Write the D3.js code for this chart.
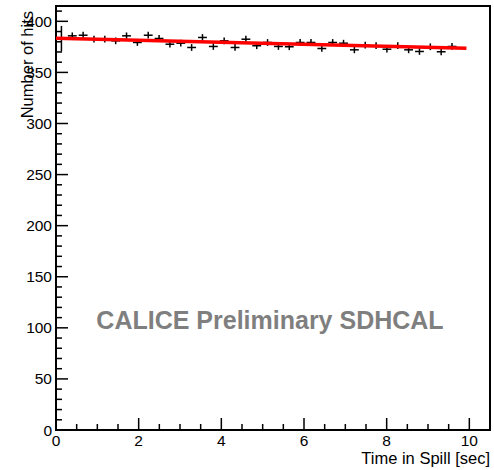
<!DOCTYPE html>
<html><head><meta charset="utf-8">
<script src="https://cdn.jsdelivr.net/npm/d3@7"></script>
<style>body{margin:0;background:#fff}svg{display:block}text{font-family:"Liberation Sans",Arial,sans-serif}</style>
</head><body>
<script>
const binWidth = 0.2625;
const hits = [383,385.8,386.4,382.5,382.5,380.9,385.8,379.3,386.4,383.2,377.6,378.6,374.4,384.2,375.4,380.9,374.4,382.5,376.1,379.3,375.4,375.1,379.3,379.3,373.4,379.3,378.6,372.1,376.6,376.1,372.7,376.1,372.1,370.5,375.1,370.2,375.4];
const errors = [12.5,3.3,3.3,3.3,3.3,3.3,3.3,3.3,3.3,3.3,3.3,3.3,3.3,3.3,3.3,3.3,3.3,3.3,3.3,3.3,3.3,3.3,3.3,3.3,3.3,3.3,3.3,3.3,3.3,3.3,3.3,3.3,3.3,3.3,3.3,3.3,3.3];
const fitRange = [0, 9.93];
const fitParams = [383.5, -0.99];
const xMajorTicks = [0,2,4,6,8,10];
const yMajorTicks = [0,50,100,150,200,250,300,350,400];
const xTitle = "Time in Spill [sec]";
const yTitle = "Number of hits";
const watermark = "CALICE Preliminary SDHCAL";

const W=494,H=470, L=56, R=490, T=6, B=430;
const svg=d3.select("body").append("svg").attr("width",W).attr("height",H);
const x=d3.scaleLinear().domain([0,10.5]).range([L,R]);
const y=d3.scaleLinear().domain([0,415]).range([B,T]);

// watermark
svg.append("text").attr("x",270).attr("y",329).attr("text-anchor","middle")
  .attr("font-size",25).attr("font-weight","bold").attr("fill","#7f7f7f").text(watermark);

// axes
const xMinor=d3.range(0,10.51,0.5), yMinor=d3.range(0,411,10);
const gx=svg.append("g");
gx.selectAll("line.mn").data(xMinor).join("line").attr("x1",d=>x(d)).attr("x2",d=>x(d))
  .attr("y1",B).attr("y2",d=>xMajorTicks.includes(d)?B-12:B-6).attr("stroke","#000").attr("stroke-width",1.5);
gx.selectAll("text").data(xMajorTicks).join("text").attr("x",d=>x(d)).attr("y",B+16)
  .attr("text-anchor","middle").attr("font-size",15.5).text(d=>d);
const gy=svg.append("g");
gy.selectAll("line").data(yMinor).join("line").attr("y1",d=>y(d)).attr("y2",d=>y(d))
  .attr("x1",L).attr("x2",d=>yMajorTicks.includes(d)?L+12:L+6).attr("stroke","#000").attr("stroke-width",1.5);
gy.selectAll("text").data(yMajorTicks).join("text").attr("x",L-4).attr("y",d=>y(d)+5.5)
  .attr("text-anchor","end").attr("font-size",15.5).text(d=>d);

svg.append("rect").attr("x",L).attr("y",T).attr("width",R-L).attr("height",B-T)
  .attr("fill","none").attr("stroke","#000").attr("stroke-width",2);

// titles
svg.append("text").attr("x",R).attr("y",464).attr("text-anchor","end").attr("font-size",16.5).text(xTitle);
svg.append("text").attr("transform","translate(33,11) rotate(-90)").attr("text-anchor","end")
  .attr("font-size",16.5).text(yTitle);

// data points
const pts=hits.map((v,i)=>({t:(i+0.5)*binWidth,v,e:errors[i]}));
const gp=svg.append("g").attr("stroke","#000").attr("stroke-width",1.5);
gp.selectAll("line.h").data(pts).join("line").attr("x1",d=>x(d.t-binWidth/2)+1).attr("x2",d=>x(d.t+binWidth/2)-1)
  .attr("y1",d=>y(d.v)).attr("y2",d=>y(d.v));
gp.selectAll("line.v").data(pts).join("line").attr("x1",d=>x(d.t)).attr("x2",d=>x(d.t))
  .attr("y1",d=>y(d.v-d.e)).attr("y2",d=>y(d.v+d.e));

// fit
const f=t=>fitParams[0]+fitParams[1]*t;
svg.append("line").attr("x1",x(fitRange[0])).attr("x2",x(fitRange[1]))
  .attr("y1",y(f(fitRange[0]))).attr("y2",y(f(fitRange[1])))
  .attr("stroke","#ff0000").attr("stroke-width",3.5);
</script>
</body></html>
